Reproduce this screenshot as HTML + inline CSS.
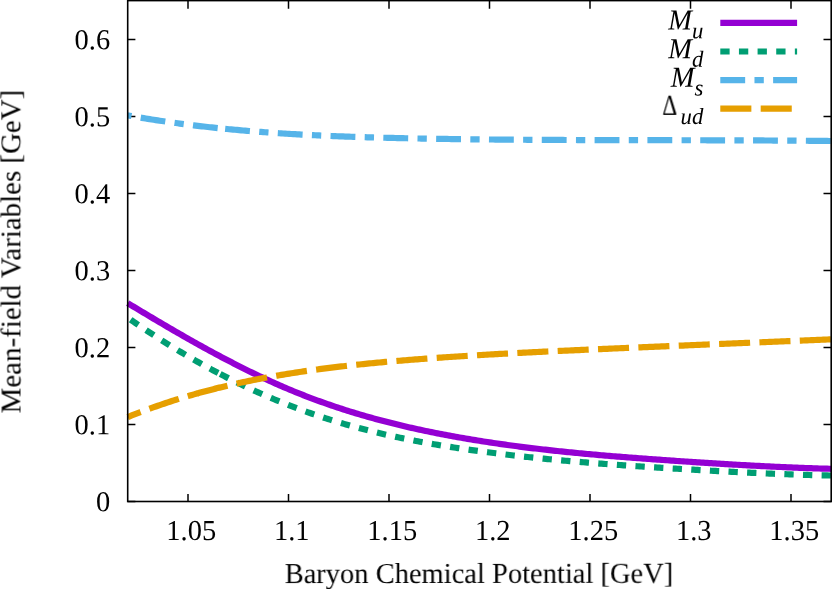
<!DOCTYPE html>
<html><head><meta charset="utf-8"><title>plot</title>
<style>
html,body{margin:0;padding:0;background:#fff;}
svg{display:block;}
text{font-family:"Liberation Serif",serif;fill:#000;text-rendering:geometricPrecision;}
.t{font-size:28.7px;}
.i{font-style:italic;}
</style></head><body>
<svg width="832" height="589" viewBox="0 0 832 589">
<rect x="0" y="0" width="832" height="589" fill="#fff"/>

<path d="M188.00,501.5 v-7.50 M188.00,0.6 v8.10 M288.50,501.5 v-7.50 M288.50,0.6 v8.10 M389.00,501.5 v-7.50 M389.00,0.6 v8.10 M489.50,501.5 v-7.50 M489.50,0.6 v8.10 M590.00,501.5 v-7.50 M590.00,0.6 v8.10 M690.50,501.5 v-7.50 M690.50,0.6 v8.10 M791.00,501.5 v-7.50 M791.00,0.6 v8.10 M127.7,501.50 h7.7 M831.2,501.50 h-7.7 M127.7,424.50 h7.7 M831.2,424.50 h-7.7 M127.7,347.50 h7.7 M831.2,347.50 h-7.7 M127.7,270.50 h7.7 M831.2,270.50 h-7.7 M127.7,193.50 h7.7 M831.2,193.50 h-7.7 M127.7,116.50 h7.7 M831.2,116.50 h-7.7 M127.7,39.50 h7.7 M831.2,39.50 h-7.7" fill="none" stroke="#000" stroke-width="1.5"/>
<g fill="none" stroke-width="6.2" stroke-linecap="butt" stroke-linejoin="round">
<path d="M127.70,317.65 L129.68,319.03 L131.66,320.40 L133.64,321.76 L135.62,323.11 L137.60,324.46 L139.59,325.80 L141.57,327.13 L143.55,328.45 L145.53,329.77 L147.51,331.08 L149.49,332.38 L151.47,333.68 L153.45,334.97 L155.43,336.25 L157.41,337.52 L159.39,338.79 L161.37,340.05 L163.36,341.30 L165.34,342.55 L167.32,343.78 L169.30,345.01 L171.28,346.24 L173.26,347.45 L175.24,348.66 L177.22,349.86 L179.20,351.05 L181.18,352.24 L183.16,353.42 L185.14,354.59 L187.13,355.75 L189.11,356.90 L191.09,358.05 L193.07,359.19 L195.05,360.33 L197.03,361.45 L199.01,362.57 L200.99,363.68 L202.97,364.78 L204.95,365.87 L206.93,366.96 L208.91,368.04 L210.90,369.11 L212.88,370.18 L214.86,371.23 L216.84,372.28 L218.82,373.32 L220.80,374.35" stroke="#009E73" stroke-dasharray="9.32,9.32" stroke-dashoffset="15.09"/>
<path d="M220.20,374.04 L222.20,375.08 L224.19,376.11 L226.19,377.13 L228.19,378.14 L230.18,379.14 L232.18,380.14 L234.18,381.13 L236.17,382.11 L238.17,383.08 L240.17,384.04 L242.16,385.00 L244.16,385.95 L246.16,386.89 L248.15,387.82 L250.15,388.75 L252.15,389.67 L254.14,390.58 L256.14,391.48 L258.14,392.38 L260.13,393.26 L262.13,394.14 L264.13,395.02 L266.12,395.88 L268.12,396.74 L270.12,397.59 L272.12,398.43 L274.11,399.26 L276.11,400.09 L278.11,400.91 L280.10,401.72 L282.10,402.53 L284.10,403.32 L286.09,404.11 L288.09,404.90 L290.09,405.67 L292.08,406.44 L294.08,407.20 L296.08,407.95 L298.07,408.70 L300.07,409.44 L302.07,410.17 L304.06,410.89 L306.06,411.61 L308.06,412.32 L310.05,413.02 L312.05,413.71 L314.05,414.40 L316.04,415.08 L318.04,415.75 L320.04,416.42 L322.03,417.08 L324.03,417.73 L326.03,418.38 L328.02,419.01 L330.02,419.64 L332.02,420.27 L334.01,420.88 L336.01,421.49 L338.01,422.10 L340.00,422.69 L342.00,423.28 L344.00,423.87 L345.99,424.44 L347.99,425.01 L349.99,425.58 L351.98,426.13 L353.98,426.68 L355.98,427.23 L357.97,427.77 L359.97,428.30 L361.97,428.83 L363.96,429.35 L365.96,429.86 L367.96,430.37 L369.95,430.87 L371.95,431.37 L373.95,431.86 L375.95,432.34 L377.94,432.82 L379.94,433.29 L381.94,433.76 L383.93,434.23 L385.93,434.68 L387.93,435.13 L389.92,435.58 L391.92,436.02 L393.92,436.46 L395.91,436.89 L397.91,437.32 L399.91,437.74 L401.90,438.15 L403.90,438.57 L405.90,438.97 L407.89,439.37 L409.89,439.77 L411.89,440.16 L413.88,440.55 L415.88,440.94 L417.88,441.32 L419.87,441.69 L421.87,442.06 L423.87,442.43 L425.86,442.79 L427.86,443.15 L429.86,443.50 L431.85,443.85 L433.85,444.20 L435.85,444.54 L437.84,444.88 L439.84,445.21 L441.84,445.54 L443.83,445.87 L445.83,446.20 L447.83,446.52 L449.82,446.83 L451.82,447.15 L453.82,447.46 L455.81,447.76 L457.81,448.07 L459.81,448.37 L461.80,448.66 L463.80,448.96 L465.80,449.25 L467.79,449.54 L469.79,449.82 L471.79,450.11 L473.78,450.39 L475.78,450.66 L477.78,450.94 L479.78,451.21 L481.77,451.48 L483.77,451.75 L485.77,452.01 L487.76,452.27 L489.76,452.53 L491.76,452.79 L493.75,453.04 L495.75,453.30 L497.75,453.55 L499.74,453.79 L501.74,454.04 L503.74,454.28 L505.73,454.52 L507.73,454.76 L509.73,454.99 L511.72,455.23 L513.72,455.46 L515.72,455.69 L517.71,455.91 L519.71,456.14 L521.71,456.36 L523.70,456.58 L525.70,456.80 L527.70,457.01 L529.69,457.22 L531.69,457.44 L533.69,457.65 L535.68,457.85 L537.68,458.06 L539.68,458.26 L541.67,458.46 L543.67,458.66 L545.67,458.86 L547.66,459.06 L549.66,459.25 L551.66,459.44 L553.65,459.63 L555.65,459.82 L557.65,460.01 L559.64,460.19 L561.64,460.38 L563.64,460.56 L565.63,460.74 L567.63,460.92 L569.63,461.09 L571.62,461.27 L573.62,461.44 L575.62,461.61 L577.62,461.78 L579.61,461.95 L581.61,462.12 L583.61,462.28 L585.60,462.45 L587.60,462.61 L589.60,462.77 L591.59,462.93 L593.59,463.09 L595.59,463.25 L597.58,463.40 L599.58,463.56 L601.58,463.71 L603.57,463.86 L605.57,464.01 L607.57,464.16 L609.56,464.31 L611.56,464.46 L613.56,464.60 L615.55,464.75 L617.55,464.89 L619.55,465.03 L621.54,465.17 L623.54,465.31 L625.54,465.45 L627.53,465.59 L629.53,465.73 L631.53,465.87 L633.52,466.00 L635.52,466.13 L637.52,466.27 L639.51,466.40 L641.51,466.53 L643.51,466.66 L645.50,466.79 L647.50,466.92 L649.50,467.05 L651.49,467.18 L653.49,467.31 L655.49,467.43 L657.48,467.56 L659.48,467.68 L661.48,467.81 L663.47,467.93 L665.47,468.05 L667.47,468.18 L669.46,468.30 L671.46,468.42 L673.46,468.54 L675.45,468.66 L677.45,468.78 L679.45,468.90 L681.45,469.02 L683.44,469.14 L685.44,469.26 L687.44,469.37 L689.43,469.49 L691.43,469.61 L693.43,469.72 L695.42,469.84 L697.42,469.95 L699.42,470.07 L701.41,470.18 L703.41,470.29 L705.41,470.41 L707.40,470.52 L709.40,470.63 L711.40,470.74 L713.39,470.85 L715.39,470.96 L717.39,471.07 L719.38,471.17 L721.38,471.28 L723.38,471.39 L725.37,471.49 L727.37,471.59 L729.37,471.70 L731.36,471.80 L733.36,471.90 L735.36,472.00 L737.35,472.10 L739.35,472.20 L741.35,472.30 L743.34,472.40 L745.34,472.49 L747.34,472.59 L749.33,472.68 L751.33,472.78 L753.33,472.87 L755.32,472.96 L757.32,473.05 L759.32,473.14 L761.31,473.23 L763.31,473.32 L765.31,473.40 L767.30,473.49 L769.30,473.57 L771.30,473.65 L773.29,473.73 L775.29,473.81 L777.29,473.89 L779.28,473.97 L781.28,474.05 L783.28,474.12 L785.28,474.20 L787.27,474.27 L789.27,474.34 L791.27,474.41 L793.26,474.48 L795.26,474.55 L797.26,474.62 L799.25,474.68 L801.25,474.75 L803.25,474.81 L805.24,474.87 L807.24,474.93 L809.24,474.99 L811.23,475.04 L813.23,475.10 L815.23,475.15 L817.22,475.21 L819.22,475.26 L821.22,475.31 L823.21,475.35 L825.21,475.40 L827.21,475.44 L829.20,475.49 L831.20,475.53" stroke="#009E73" stroke-dasharray="9.32,9.32" stroke-dashoffset="0.00"/>
<path d="M127.70,303.13 L129.70,304.34 L131.70,305.55 L133.70,306.75 L135.69,307.96 L137.69,309.16 L139.69,310.36 L141.69,311.56 L143.69,312.76 L145.69,313.96 L147.69,315.15 L149.68,316.34 L151.68,317.53 L153.68,318.72 L155.68,319.90 L157.68,321.09 L159.68,322.27 L161.68,323.44 L163.67,324.62 L165.67,325.79 L167.67,326.96 L169.67,328.13 L171.67,329.29 L173.67,330.45 L175.67,331.61 L177.66,332.76 L179.66,333.91 L181.66,335.06 L183.66,336.20 L185.66,337.34 L187.66,338.47 L189.66,339.61 L191.65,340.73 L193.65,341.86 L195.65,342.98 L197.65,344.10 L199.65,345.21 L201.65,346.32 L203.65,347.42 L205.64,348.52 L207.64,349.61 L209.64,350.70 L211.64,351.79 L213.64,352.87 L215.64,353.94 L217.64,355.01 L219.63,356.08 L221.63,357.14 L223.63,358.20 L225.63,359.25 L227.63,360.29 L229.63,361.33 L231.63,362.36 L233.62,363.39 L235.62,364.42 L237.62,365.43 L239.62,366.44 L241.62,367.45 L243.62,368.45 L245.62,369.44 L247.61,370.43 L249.61,371.41 L251.61,372.39 L253.61,373.35 L255.61,374.31 L257.61,375.27 L259.61,376.22 L261.60,377.16 L263.60,378.10 L265.60,379.02 L267.60,379.94 L269.60,380.86 L271.60,381.77 L273.60,382.66 L275.59,383.56 L277.59,384.44 L279.59,385.32 L281.59,386.19 L283.59,387.05 L285.59,387.91 L287.59,388.75 L289.58,389.59 L291.58,390.42 L293.58,391.25 L295.58,392.06 L297.58,392.87 L299.58,393.67 L301.58,394.46 L303.57,395.25 L305.57,396.03 L307.57,396.80 L309.57,397.56 L311.57,398.31 L313.57,399.06 L315.57,399.80 L317.57,400.54 L319.56,401.26 L321.56,401.98 L323.56,402.69 L325.56,403.40 L327.56,404.10 L329.56,404.79 L331.56,405.47 L333.55,406.15 L335.55,406.82 L337.55,407.49 L339.55,408.15 L341.55,408.80 L343.55,409.44 L345.55,410.08 L347.54,410.71 L349.54,411.34 L351.54,411.96 L353.54,412.57 L355.54,413.18 L357.54,413.78 L359.54,414.37 L361.53,414.96 L363.53,415.54 L365.53,416.12 L367.53,416.69 L369.53,417.26 L371.53,417.82 L373.53,418.37 L375.52,418.92 L377.52,419.46 L379.52,419.99 L381.52,420.53 L383.52,421.05 L385.52,421.57 L387.52,422.09 L389.51,422.59 L391.51,423.10 L393.51,423.60 L395.51,424.09 L397.51,424.58 L399.51,425.06 L401.51,425.54 L403.50,426.01 L405.50,426.48 L407.50,426.95 L409.50,427.40 L411.50,427.86 L413.50,428.31 L415.50,428.75 L417.49,429.19 L419.49,429.63 L421.49,430.06 L423.49,430.48 L425.49,430.91 L427.49,431.32 L429.49,431.74 L431.48,432.15 L433.48,432.55 L435.48,432.95 L437.48,433.35 L439.48,433.74 L441.48,434.13 L443.48,434.52 L445.47,434.90 L447.47,435.27 L449.47,435.65 L451.47,436.02 L453.47,436.38 L455.47,436.74 L457.47,437.10 L459.46,437.46 L461.46,437.81 L463.46,438.16 L465.46,438.50 L467.46,438.84 L469.46,439.18 L471.46,439.51 L473.45,439.84 L475.45,440.17 L477.45,440.49 L479.45,440.81 L481.45,441.13 L483.45,441.44 L485.45,441.75 L487.44,442.06 L489.44,442.36 L491.44,442.66 L493.44,442.96 L495.44,443.26 L497.44,443.55 L499.44,443.83 L501.43,444.12 L503.43,444.40 L505.43,444.68 L507.43,444.96 L509.43,445.23 L511.43,445.50 L513.43,445.77 L515.42,446.04 L517.42,446.30 L519.42,446.56 L521.42,446.82 L523.42,447.07 L525.42,447.32 L527.42,447.57 L529.41,447.82 L531.41,448.06 L533.41,448.30 L535.41,448.54 L537.41,448.78 L539.41,449.01 L541.41,449.24 L543.40,449.47 L545.40,449.70 L547.40,449.92 L549.40,450.15 L551.40,450.37 L553.40,450.58 L555.40,450.80 L557.39,451.01 L559.39,451.22 L561.39,451.43 L563.39,451.64 L565.39,451.84 L567.39,452.05 L569.39,452.25 L571.38,452.45 L573.38,452.64 L575.38,452.84 L577.38,453.03 L579.38,453.22 L581.38,453.41 L583.38,453.60 L585.37,453.79 L587.37,453.97 L589.37,454.15 L591.37,454.34 L593.37,454.52 L595.37,454.69 L597.37,454.87 L599.36,455.04 L601.36,455.22 L603.36,455.39 L605.36,455.56 L607.36,455.73 L609.36,455.90 L611.36,456.06 L613.35,456.23 L615.35,456.39 L617.35,456.55 L619.35,456.71 L621.35,456.87 L623.35,457.03 L625.35,457.19 L627.34,457.34 L629.34,457.50 L631.34,457.65 L633.34,457.81 L635.34,457.96 L637.34,458.11 L639.34,458.26 L641.33,458.41 L643.33,458.56 L645.33,458.70 L647.33,458.85 L649.33,459.00 L651.33,459.14 L653.33,459.29 L655.33,459.43 L657.32,459.57 L659.32,459.71 L661.32,459.86 L663.32,460.00 L665.32,460.14 L667.32,460.28 L669.32,460.42 L671.31,460.56 L673.31,460.70 L675.31,460.83 L677.31,460.97 L679.31,461.11 L681.31,461.24 L683.31,461.38 L685.30,461.51 L687.30,461.65 L689.30,461.78 L691.30,461.92 L693.30,462.05 L695.30,462.18 L697.30,462.31 L699.29,462.44 L701.29,462.57 L703.29,462.70 L705.29,462.83 L707.29,462.96 L709.29,463.08 L711.29,463.21 L713.28,463.34 L715.28,463.46 L717.28,463.58 L719.28,463.71 L721.28,463.83 L723.28,463.95 L725.28,464.07 L727.27,464.19 L729.27,464.31 L731.27,464.43 L733.27,464.54 L735.27,464.66 L737.27,464.77 L739.27,464.89 L741.26,465.00 L743.26,465.11 L745.26,465.22 L747.26,465.33 L749.26,465.44 L751.26,465.55 L753.26,465.65 L755.25,465.76 L757.25,465.86 L759.25,465.97 L761.25,466.07 L763.25,466.17 L765.25,466.27 L767.25,466.37 L769.24,466.47 L771.24,466.56 L773.24,466.66 L775.24,466.75 L777.24,466.84 L779.24,466.93 L781.24,467.02 L783.23,467.11 L785.23,467.20 L787.23,467.29 L789.23,467.37 L791.23,467.46 L793.23,467.54 L795.23,467.62 L797.22,467.70 L799.22,467.78 L801.22,467.85 L803.22,467.93 L805.22,468.00 L807.22,468.07 L809.22,468.14 L811.21,468.21 L813.21,468.28 L815.21,468.35 L817.21,468.41 L819.21,468.48 L821.21,468.54 L823.21,468.60 L825.20,468.66 L827.20,468.71 L829.20,468.77 L831.20,468.82" stroke="#9400D3"/>
<path d="M127.70,115.36 L129.70,115.72 L131.70,116.08 L133.70,116.44 L135.70,116.79 L137.71,117.14 L139.71,117.48 L141.71,117.82 L143.71,118.16 L145.71,118.49 L147.71,118.82 L149.71,119.14 L151.71,119.46 L153.71,119.78 L155.71,120.09 L157.72,120.40 L159.72,120.70 L161.72,121.01 L163.72,121.30 L165.72,121.60 L167.72,121.89 L169.72,122.18 L171.72,122.46 L173.72,122.74 L175.72,123.02 L177.73,123.29 L179.73,123.56 L181.73,123.83 L183.73,124.09 L185.73,124.35 L187.73,124.61 L189.73,124.86 L191.73,125.11 L193.73,125.36 L195.73,125.60 L197.74,125.84 L199.74,126.08 L201.74,126.31 L203.74,126.54 L205.74,126.77 L207.74,127.00 L209.74,127.22 L211.74,127.44 L213.74,127.65 L215.74,127.87 L217.75,128.08 L219.75,128.28 L221.75,128.49 L223.75,128.69 L225.75,128.89" stroke="#56B4E9" stroke-dasharray="24.86,9.32,9.32,9.32" stroke-dashoffset="39.60"/>
<path d="M225.15,128.83 L227.15,129.02 L229.15,129.22 L231.15,129.41 L233.15,129.60 L235.15,129.78 L237.15,129.96 L239.15,130.14 L241.15,130.32 L243.15,130.50 L245.15,130.67 L247.15,130.84 L249.15,131.00 L251.15,131.17 L253.15,131.33 L255.15,131.49 L257.15,131.65 L259.15,131.80 L261.15,131.96 L263.15,132.11 L265.15,132.25 L267.15,132.40 L269.15,132.54 L271.15,132.68 L273.15,132.82 L275.15,132.96 L277.15,133.09 L279.15,133.22 L281.15,133.35 L283.15,133.48 L285.15,133.61 L287.16,133.73 L289.16,133.86 L291.16,133.98 L293.16,134.09 L295.16,134.21 L297.16,134.32 L299.16,134.44 L301.16,134.55 L303.16,134.65 L305.16,134.76 L307.16,134.87 L309.16,134.97 L311.16,135.07 L313.16,135.17 L315.16,135.27 L317.16,135.36 L319.16,135.46 L321.16,135.55 L323.16,135.64 L325.16,135.73 L327.16,135.82 L329.16,135.91 L331.16,135.99 L333.16,136.08 L335.16,136.16 L337.16,136.24 L339.16,136.32 L341.16,136.39 L343.16,136.47 L345.16,136.54 L347.16,136.62 L349.16,136.69 L351.16,136.76 L353.16,136.83 L355.16,136.90 L357.16,136.96 L359.16,137.03 L361.16,137.09 L363.16,137.16 L365.16,137.22 L367.16,137.28 L369.16,137.34 L371.16,137.39 L373.16,137.45 L375.16,137.51 L377.16,137.56 L379.16,137.62 L381.16,137.67 L383.16,137.72 L385.16,137.77 L387.16,137.82 L389.16,137.87 L391.16,137.92 L393.16,137.97 L395.16,138.01 L397.16,138.06 L399.16,138.10 L401.16,138.15 L403.16,138.19 L405.16,138.23 L407.17,138.27 L409.17,138.31 L411.17,138.35 L413.17,138.39 L415.17,138.43 L417.17,138.47 L419.17,138.51 L421.17,138.54 L423.17,138.58 L425.17,138.61 L427.17,138.65 L429.17,138.68 L431.17,138.72 L433.17,138.75 L435.17,138.78 L437.17,138.81 L439.17,138.85 L441.17,138.88 L443.17,138.91 L445.17,138.94 L447.17,138.97 L449.17,139.00 L451.17,139.03 L453.17,139.05 L455.17,139.08 L457.17,139.11 L459.17,139.14 L461.17,139.16 L463.17,139.19 L465.17,139.21 L467.17,139.24 L469.17,139.26 L471.17,139.29 L473.17,139.31 L475.17,139.33 L477.17,139.35 L479.17,139.38 L481.17,139.40 L483.17,139.42 L485.17,139.44 L487.17,139.46 L489.17,139.48 L491.17,139.50 L493.17,139.52 L495.17,139.54 L497.17,139.56 L499.17,139.57 L501.17,139.59 L503.17,139.61 L505.17,139.63 L507.17,139.64 L509.17,139.66 L511.17,139.67 L513.17,139.69 L515.17,139.70 L517.17,139.72 L519.17,139.73 L521.17,139.75 L523.17,139.76 L525.17,139.77 L527.17,139.79 L529.18,139.80 L531.18,139.81 L533.18,139.83 L535.18,139.84 L537.18,139.85 L539.18,139.86 L541.18,139.87 L543.18,139.88 L545.18,139.89 L547.18,139.90 L549.18,139.91 L551.18,139.92 L553.18,139.93 L555.18,139.94 L557.18,139.95 L559.18,139.96 L561.18,139.97 L563.18,139.97 L565.18,139.98 L567.18,139.99 L569.18,140.00 L571.18,140.01 L573.18,140.01 L575.18,140.02 L577.18,140.03 L579.18,140.03 L581.18,140.04 L583.18,140.05 L585.18,140.05 L587.18,140.06 L589.18,140.06 L591.18,140.07 L593.18,140.07 L595.18,140.08 L597.18,140.08 L599.18,140.09 L601.18,140.09 L603.18,140.10 L605.18,140.10 L607.18,140.11 L609.18,140.11 L611.18,140.12 L613.18,140.12 L615.18,140.12 L617.18,140.13 L619.18,140.13 L621.18,140.13 L623.18,140.14 L625.18,140.14 L627.18,140.15 L629.18,140.15 L631.18,140.15 L633.18,140.16 L635.18,140.16 L637.18,140.16 L639.18,140.16 L641.18,140.17 L643.18,140.17 L645.18,140.17 L647.18,140.18 L649.18,140.18 L651.19,140.18 L653.19,140.19 L655.19,140.19 L657.19,140.19 L659.19,140.19 L661.19,140.20 L663.19,140.20 L665.19,140.20 L667.19,140.21 L669.19,140.21 L671.19,140.21 L673.19,140.22 L675.19,140.22 L677.19,140.22 L679.19,140.22 L681.19,140.23 L683.19,140.23 L685.19,140.23 L687.19,140.24 L689.19,140.24 L691.19,140.25 L693.19,140.25 L695.19,140.25 L697.19,140.26 L699.19,140.26 L701.19,140.27 L703.19,140.27 L705.19,140.27 L707.19,140.28 L709.19,140.28 L711.19,140.29 L713.19,140.29 L715.19,140.30 L717.19,140.30 L719.19,140.31 L721.19,140.31 L723.19,140.32 L725.19,140.33 L727.19,140.33 L729.19,140.34 L731.19,140.34 L733.19,140.35 L735.19,140.36 L737.19,140.36 L739.19,140.37 L741.19,140.38 L743.19,140.39 L745.19,140.39 L747.19,140.40 L749.19,140.41 L751.19,140.42 L753.19,140.43 L755.19,140.44 L757.19,140.45 L759.19,140.46 L761.19,140.46 L763.19,140.47 L765.19,140.48 L767.19,140.50 L769.19,140.51 L771.20,140.52 L773.20,140.53 L775.20,140.54 L777.20,140.55 L779.20,140.56 L781.20,140.58 L783.20,140.59 L785.20,140.60 L787.20,140.62 L789.20,140.63 L791.20,140.64 L793.20,140.66 L795.20,140.67 L797.20,140.69 L799.20,140.70 L801.20,140.72 L803.20,140.74 L805.20,140.75 L807.20,140.77 L809.20,140.79 L811.20,140.80 L813.20,140.82 L815.20,140.84 L817.20,140.86 L819.20,140.88 L821.20,140.90 L823.20,140.92 L825.20,140.94 L827.20,140.96 L829.20,140.98 L831.20,141.00" stroke="#56B4E9" stroke-dasharray="24.86,9.32,9.32,9.32" stroke-dashoffset="0.00"/>
<path d="M127.70,417.09 L129.71,416.28 L131.72,415.48 L133.73,414.69 L135.73,413.90 L137.74,413.12 L139.75,412.35 L141.76,411.59 L143.77,410.84 L145.78,410.09 L147.79,409.35 L149.79,408.62 L151.80,407.89 L153.81,407.18 L155.82,406.47 L157.83,405.77 L159.84,405.07 L161.85,404.39 L163.85,403.71 L165.86,403.04 L167.87,402.37 L169.88,401.72 L171.89,401.07 L173.90,400.42 L175.91,399.79 L177.91,399.16 L179.92,398.53 L181.93,397.92 L183.94,397.31 L185.95,396.71 L187.96,396.11 L189.97,395.52 L191.97,394.94 L193.98,394.37 L195.99,393.80 L198.00,393.24" stroke="#E69F00" stroke-dasharray="31.07,9.32" stroke-dashoffset="17.17"/>
<path d="M197.40,393.40 L199.40,392.85 L201.40,392.30 L203.40,391.76 L205.40,391.22 L207.40,390.69 L209.40,390.16 L211.40,389.64 L213.39,389.13 L215.39,388.63 L217.39,388.12 L219.39,387.63 L221.39,387.14 L223.39,386.66 L225.39,386.18 L227.39,385.71 L229.39,385.24 L231.39,384.78 L233.39,384.33 L235.39,383.88 L237.39,383.43 L239.39,382.99 L241.39,382.56 L243.39,382.13 L245.38,381.70 L247.38,381.29 L249.38,380.87 L251.38,380.46 L253.38,380.06 L255.38,379.66 L257.38,379.27 L259.38,378.88 L261.38,378.49 L263.38,378.12 L265.38,377.74 L267.38,377.37 L269.38,377.00 L271.38,376.64 L273.38,376.29 L275.38,375.93 L277.37,375.59 L279.37,375.24 L281.37,374.90 L283.37,374.57 L285.37,374.24 L287.37,373.91 L289.37,373.59 L291.37,373.27 L293.37,372.95 L295.37,372.64 L297.37,372.34 L299.37,372.03 L301.37,371.73 L303.37,371.44 L305.37,371.14 L307.37,370.86 L309.36,370.57 L311.36,370.29 L313.36,370.01 L315.36,369.73 L317.36,369.46 L319.36,369.19 L321.36,368.93 L323.36,368.67 L325.36,368.41 L327.36,368.15 L329.36,367.90 L331.36,367.65 L333.36,367.40 L335.36,367.16 L337.36,366.92 L339.36,366.68 L341.35,366.45 L343.35,366.22 L345.35,365.99 L347.35,365.76 L349.35,365.54 L351.35,365.32 L353.35,365.10 L355.35,364.88 L357.35,364.67 L359.35,364.46 L361.35,364.25 L363.35,364.05 L365.35,363.84 L367.35,363.64 L369.35,363.44 L371.35,363.25 L373.34,363.05 L375.34,362.86 L377.34,362.67 L379.34,362.48 L381.34,362.30 L383.34,362.12 L385.34,361.93 L387.34,361.76 L389.34,361.58 L391.34,361.40 L393.34,361.23 L395.34,361.06 L397.34,360.89 L399.34,360.72 L401.34,360.56 L403.34,360.39 L405.33,360.23 L407.33,360.07 L409.33,359.91 L411.33,359.75 L413.33,359.59 L415.33,359.44 L417.33,359.29 L419.33,359.13 L421.33,358.98 L423.33,358.83 L425.33,358.69 L427.33,358.54 L429.33,358.39 L431.33,358.25 L433.33,358.11 L435.32,357.96 L437.32,357.82 L439.32,357.68 L441.32,357.55 L443.32,357.41 L445.32,357.27 L447.32,357.14 L449.32,357.00 L451.32,356.87 L453.32,356.74 L455.32,356.61 L457.32,356.48 L459.32,356.35 L461.32,356.22 L463.32,356.09 L465.32,355.97 L467.31,355.84 L469.31,355.72 L471.31,355.60 L473.31,355.48 L475.31,355.35 L477.31,355.23 L479.31,355.11 L481.31,355.00 L483.31,354.88 L485.31,354.76 L487.31,354.65 L489.31,354.53 L491.31,354.42 L493.31,354.31 L495.31,354.19 L497.31,354.08 L499.30,353.97 L501.30,353.86 L503.30,353.75 L505.30,353.64 L507.30,353.53 L509.30,353.43 L511.30,353.32 L513.30,353.22 L515.30,353.11 L517.30,353.01 L519.30,352.90 L521.30,352.80 L523.30,352.70 L525.30,352.59 L527.30,352.49 L529.30,352.39 L531.29,352.29 L533.29,352.19 L535.29,352.09 L537.29,351.99 L539.29,351.90 L541.29,351.80 L543.29,351.70 L545.29,351.61 L547.29,351.51 L549.29,351.41 L551.29,351.32 L553.29,351.22 L555.29,351.13 L557.29,351.04 L559.29,350.94 L561.29,350.85 L563.28,350.76 L565.28,350.66 L567.28,350.57 L569.28,350.48 L571.28,350.39 L573.28,350.30 L575.28,350.21 L577.28,350.12 L579.28,350.03 L581.28,349.94 L583.28,349.85 L585.28,349.76 L587.28,349.67 L589.28,349.58 L591.28,349.49 L593.28,349.40 L595.27,349.31 L597.27,349.22 L599.27,349.14 L601.27,349.05 L603.27,348.96 L605.27,348.87 L607.27,348.78 L609.27,348.70 L611.27,348.61 L613.27,348.52 L615.27,348.43 L617.27,348.35 L619.27,348.26 L621.27,348.17 L623.27,348.09 L625.26,348.00 L627.26,347.91 L629.26,347.83 L631.26,347.74 L633.26,347.65 L635.26,347.57 L637.26,347.48 L639.26,347.40 L641.26,347.31 L643.26,347.22 L645.26,347.14 L647.26,347.05 L649.26,346.97 L651.26,346.88 L653.26,346.80 L655.26,346.71 L657.25,346.63 L659.25,346.54 L661.25,346.46 L663.25,346.37 L665.25,346.29 L667.25,346.20 L669.25,346.12 L671.25,346.03 L673.25,345.95 L675.25,345.86 L677.25,345.78 L679.25,345.69 L681.25,345.61 L683.25,345.53 L685.25,345.44 L687.25,345.36 L689.24,345.27 L691.24,345.19 L693.24,345.11 L695.24,345.02 L697.24,344.94 L699.24,344.85 L701.24,344.77 L703.24,344.69 L705.24,344.60 L707.24,344.52 L709.24,344.44 L711.24,344.35 L713.24,344.27 L715.24,344.18 L717.24,344.10 L719.24,344.02 L721.23,343.93 L723.23,343.85 L725.23,343.77 L727.23,343.68 L729.23,343.60 L731.23,343.52 L733.23,343.43 L735.23,343.35 L737.23,343.27 L739.23,343.18 L741.23,343.10 L743.23,343.02 L745.23,342.93 L747.23,342.85 L749.23,342.77 L751.23,342.68 L753.22,342.60 L755.22,342.52 L757.22,342.43 L759.22,342.35 L761.22,342.26 L763.22,342.18 L765.22,342.10 L767.22,342.01 L769.22,341.93 L771.22,341.85 L773.22,341.76 L775.22,341.68 L777.22,341.60 L779.22,341.51 L781.22,341.43 L783.22,341.35 L785.21,341.26 L787.21,341.18 L789.21,341.09 L791.21,341.01 L793.21,340.93 L795.21,340.84 L797.21,340.76 L799.21,340.67 L801.21,340.59 L803.21,340.51 L805.21,340.42 L807.21,340.34 L809.21,340.25 L811.21,340.17 L813.21,340.08 L815.21,340.00 L817.20,339.91 L819.20,339.83 L821.20,339.74 L823.20,339.66 L825.20,339.57 L827.20,339.49 L829.20,339.40 L831.20,339.32" stroke="#E69F00" stroke-dasharray="31.07,9.32" stroke-dashoffset="0.00"/>
<path d="M720.3,22.85 H797.1" stroke="#9400D3"/>
<path d="M720.3,51.5 H797.1" stroke="#009E73" stroke-dasharray="9.32,9.32"/>
<path d="M720.3,80.1 H797.1" stroke="#56B4E9" stroke-dasharray="24.86,9.32,9.32,9.32"/>
<path d="M720.3,108.7 H797.1" stroke="#E69F00" stroke-dasharray="31.07,9.32"/>
</g>
<rect x="127.7" y="0.6" width="703.50" height="500.90" fill="none" stroke="#000" stroke-width="1.6"/>
<g class="t" opacity="0.999">
<text transform="translate(191.30,540.05) scale(0.9935,1.007) rotate(-0.05)" text-anchor="middle">1.05</text>
<text transform="translate(291.80,540.05) scale(0.9935,1.007) rotate(-0.05)" text-anchor="middle">1.1</text>
<text transform="translate(392.30,540.05) scale(0.9935,1.007) rotate(-0.05)" text-anchor="middle">1.15</text>
<text transform="translate(492.80,540.05) scale(0.9935,1.007) rotate(-0.05)" text-anchor="middle">1.2</text>
<text transform="translate(593.30,540.05) scale(0.9935,1.007) rotate(-0.05)" text-anchor="middle">1.25</text>
<text transform="translate(693.80,540.05) scale(0.9935,1.007) rotate(-0.05)" text-anchor="middle">1.3</text>
<text transform="translate(794.30,540.05) scale(0.9935,1.007) rotate(-0.05)" text-anchor="middle">1.35</text>
<text transform="translate(110.20,511.30) scale(0.9935,1.007) rotate(-0.05)" text-anchor="end">0</text>
<text transform="translate(110.20,434.30) scale(0.9935,1.007) rotate(-0.05)" text-anchor="end">0.1</text>
<text transform="translate(110.20,357.30) scale(0.9935,1.007) rotate(-0.05)" text-anchor="end">0.2</text>
<text transform="translate(110.20,280.30) scale(0.9935,1.007) rotate(-0.05)" text-anchor="end">0.3</text>
<text transform="translate(110.20,203.30) scale(0.9935,1.007) rotate(-0.05)" text-anchor="end">0.4</text>
<text transform="translate(110.20,126.30) scale(0.9935,1.007) rotate(-0.05)" text-anchor="end">0.5</text>
<text transform="translate(110.20,49.30) scale(0.9935,1.007) rotate(-0.05)" text-anchor="end">0.6</text>
<text transform="translate(479.00,583.10) scale(0.9935,1.007) rotate(-0.05)" text-anchor="middle">Baryon Chemical Potential [GeV]</text>
<text transform="translate(20.20,251.50) scale(0.9935,1.007) rotate(-90.05)" text-anchor="middle">Mean-field Variables [GeV]</text>
<text transform="translate(703.30,29.50) scale(0.9935,1.007) rotate(-0.05)" text-anchor="end"><tspan class="i">M</tspan><tspan class="i" font-size="22.96" dy="8.61">u</tspan></text>
<text transform="translate(703.30,58.10) scale(0.9935,1.007) rotate(-0.05)" text-anchor="end"><tspan class="i">M</tspan><tspan class="i" font-size="22.96" dy="8.61">d</tspan></text>
<text transform="translate(703.30,86.70) scale(0.9935,1.007) rotate(-0.05)" text-anchor="end"><tspan class="i">M</tspan><tspan class="i" font-size="22.96" dy="8.61">s</tspan></text>
<text transform="translate(703.30,115.30) scale(0.9935,1.007) rotate(-0.05)" text-anchor="end"><tspan class="i" font-size="22.96" dy="8.61">ud</tspan></text>
</g>
<text class="t" opacity="0.999" transform="translate(662.4,115.2) scale(0.80,1.012) rotate(-0.05)">Δ</text>
</svg></body></html>
